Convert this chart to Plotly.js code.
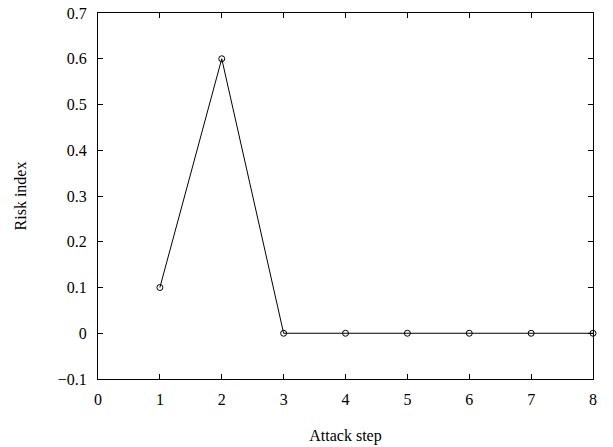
<!DOCTYPE html>
<html><head><meta charset="utf-8">
<script src="https://cdn.plot.ly/plotly-3.0.1.min.js"></script>
<style>body{margin:0;background:#fff}#c{width:613px;height:447px}</style>
</head><body><div id="c"></div>
<script>
const steps = [1, 2, 3, 4, 5, 6, 7, 8];
const risk = [0.1, 0.6, 0, 0, 0, 0, 0, 0];
const xTicks = [0, 1, 2, 3, 4, 5, 6, 7, 8];
const yTicks = [-0.1, 0, 0.1, 0.2, 0.3, 0.4, 0.5, 0.6, 0.7];
const yTickText = ['\u22120.1', '0', '0.1', '0.2', '0.3', '0.4', '0.5', '0.6', '0.7'];

const fnt = {family: 'Liberation Serif, Times New Roman, serif', size: 16, color: '#000'};
const trace = {
  x: steps, y: risk, type: 'scatter', mode: 'lines+markers',
  line: {color: '#000', width: 1},
  marker: {symbol: 'circle-open', size: 6, color: '#000', line: {width: 1, color: '#000'}},
  cliponaxis: false, hoverinfo: 'skip'
};
const axisCommon = {
  showgrid: false, zeroline: false, showline: true, linecolor: '#000', linewidth: 1,
  mirror: 'ticks', ticks: 'inside', ticklen: 5, tickcolor: '#000', tickwidth: 1,
  tickfont: fnt
};
const layout = {
  width: 613, height: 447,
  margin: {l: 98, r: 20, t: 13, b: 68},
  paper_bgcolor: '#fff', plot_bgcolor: '#fff',
  showlegend: false,
  font: fnt,
  xaxis: Object.assign({}, axisCommon, {
    range: [0, 8], tickmode: 'array', tickvals: xTicks, ticktext: xTicks.map(String),
    ticklabelstandoff: 6,
    title: {text: 'Attack step', font: fnt, standoff: 22}
  }),
  yaxis: Object.assign({}, axisCommon, {
    range: [-0.1, 0.7], tickmode: 'array', tickvals: yTicks, ticktext: yTickText,
    ticklabelstandoff: 7,
    title: {text: 'Risk index', font: fnt, standoff: 27}
  })
};
Plotly.newPlot('c', [trace], layout, {staticPlot: true});
</script></body></html>
